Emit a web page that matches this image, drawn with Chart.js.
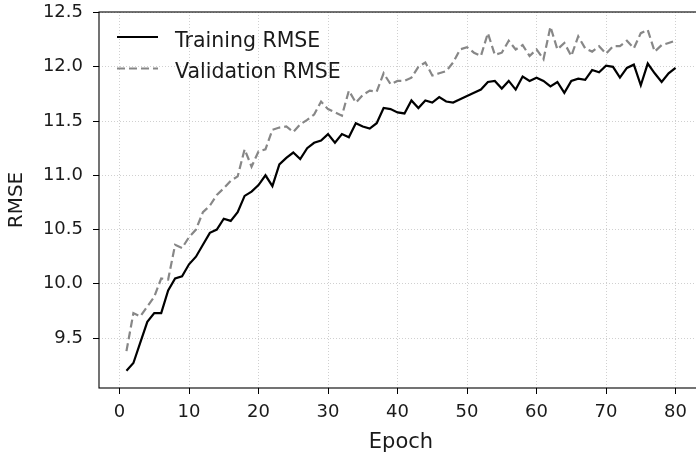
<!DOCTYPE html>
<html>
<head>
<meta charset="utf-8">
<script src="https://cdn.jsdelivr.net/npm/chart.js@4"></script>
<style>
  body { margin: 0; background: #fff; }
  #wrap { width: 696px; height: 456px; overflow: hidden; }
</style>
</head>
<body>
<div id="wrap">
  <canvas id="rmseChart" width="712" height="456"></canvas>
</div>
<script>
// Epochs 1..80
const epochs = [
  1, 2, 3, 4, 5, 6, 7, 8, 9, 10, 11, 12, 13, 14, 15, 16, 17, 18, 19, 20,
  21, 22, 23, 24, 25, 26, 27, 28, 29, 30, 31, 32, 33, 34, 35, 36, 37, 38, 39, 40,
  41, 42, 43, 44, 45, 46, 47, 48, 49, 50, 51, 52, 53, 54, 55, 56, 57, 58, 59, 60,
  61, 62, 63, 64, 65, 66, 67, 68, 69, 70, 71, 72, 73, 74, 75, 76, 77, 78, 79, 80
];

const trainingRmse = [
  9.20, 9.27, 9.46, 9.65, 9.73, 9.73, 9.94, 10.05, 10.07, 10.18,
  10.25, 10.36, 10.47, 10.50, 10.60, 10.58, 10.66, 10.81, 10.85, 10.91,
  11.00, 10.90, 11.10, 11.16, 11.21, 11.15, 11.25, 11.30, 11.32, 11.38,
  11.30, 11.38, 11.35, 11.48, 11.45, 11.43, 11.48, 11.62, 11.61, 11.58,
  11.57, 11.69, 11.62, 11.69, 11.67, 11.72, 11.68, 11.67, 11.70, 11.73,
  11.76, 11.79, 11.86, 11.87, 11.80, 11.87, 11.79, 11.91, 11.87, 11.90,
  11.87, 11.82, 11.86, 11.76, 11.87, 11.89, 11.88, 11.97, 11.95, 12.01,
  12.00, 11.90, 11.99, 12.02, 11.83, 12.03, 11.94, 11.86, 11.94, 11.99
];

const validationRmse = [
  9.38, 9.73, 9.70, 9.79, 9.88, 10.05, 10.04, 10.36, 10.33, 10.43,
  10.50, 10.66, 10.72, 10.82, 10.88, 10.95, 10.99, 11.24, 11.08, 11.22,
  11.24, 11.42, 11.44, 11.45, 11.40, 11.47, 11.51, 11.56, 11.68, 11.61,
  11.58, 11.55, 11.78, 11.67, 11.74, 11.78, 11.77, 11.94, 11.84, 11.87,
  11.87, 11.90, 12.00, 12.04, 11.92, 11.94, 11.96, 12.04, 12.16, 12.18,
  12.13, 12.10, 12.31, 12.11, 12.13, 12.24, 12.16, 12.20, 12.10, 12.16,
  12.07, 12.37, 12.16, 12.22, 12.10, 12.28, 12.17, 12.14, 12.19, 12.12,
  12.19, 12.19, 12.24, 12.17, 12.31, 12.34, 12.14, 12.20, 12.22, 12.24
];

const xTicks = [0, 10, 20, 30, 40, 50, 60, 70, 80];
const yTicks = [9.5, 10.0, 10.5, 11.0, 11.5, 12.0, 12.5];

const FONT = "'DejaVu Sans', sans-serif";

/**
 * Draws the axes frame (matplotlib-like spines)
 */
const framePlugin = {
    id: 'frame',
    afterDatasetsDraw(chart) {
        const { ctx, chartArea: a } = chart;
        ctx.save();
        ctx.strokeStyle = '#000';
        ctx.lineWidth = 1.1;
        ctx.strokeRect(a.left, a.top, a.right - a.left, a.bottom - a.top);
        ctx.restore();
    }
};

/**
 * Legend drawn inside the upper left corner of the plot
 */
const innerLegend = {
    id: 'innerLegend',
    afterDraw(chart) {
        const { ctx } = chart;
        const rows = [
            { ds: chart.data.datasets[0], y: 37, base: 46.5 },
            { ds: chart.data.datasets[1], y: 68.5, base: 78 }
        ];
        ctx.save();
        rows.forEach(row => {
            ctx.beginPath();
            ctx.strokeStyle = row.ds.borderColor;
            ctx.lineWidth = row.ds.borderWidth;
            ctx.setLineDash(row.ds.borderDash || []);
            ctx.moveTo(117, row.y);
            ctx.lineTo(158, row.y);
            ctx.stroke();
            ctx.setLineDash([]);
            ctx.fillStyle = '#1a1a1a';
            ctx.font = '20.5px ' + FONT;
            ctx.textBaseline = 'alphabetic';
            ctx.textAlign = 'left';
            ctx.fillText(row.ds.label, 175, row.base);
        });
        ctx.restore();
    }
};

function setupChart() {
    const ctx = document.getElementById('rmseChart');
    new Chart(ctx, {
        type: 'line',
        data: {
            labels: epochs,
            datasets: [{
                label: 'Training RMSE',
                data: epochs.map((e, i) => ({ x: e, y: trainingRmse[i] })),
                borderColor: '#000',
                borderWidth: 2.2,
                pointRadius: 0,
                tension: 0,
                fill: false
            }, {
                label: 'Validation RMSE',
                data: epochs.map((e, i) => ({ x: e, y: validationRmse[i] })),
                borderColor: '#878787',
                borderWidth: 2.2,
                borderDash: [8, 4],
                pointRadius: 0,
                tension: 0,
                fill: false
            }]
        },
        options: {
            responsive: false,
            animation: false,
            events: [],
            layout: { padding: { top: 12, right: 9, left: 0, bottom: 0 } },
            plugins: {
                legend: { display: false },
                tooltip: { enabled: false }
            },
            scales: {
                x: {
                    type: 'linear',
                    min: -2.95,
                    max: 83.95,
                    afterBuildTicks: scale => {
                        scale.ticks = xTicks.map(v => ({ value: v }));
                    },
                    afterFit: scale => {
                        scale.height = 68;
                        scale.paddingLeft = 0;
                        scale.paddingRight = 0;
                    },
                    ticks: {
                        color: '#1a1a1a',
                        font: { family: FONT, size: 18 },
                        padding: 8,
                        maxRotation: 0,
                        callback: v => String(v)
                    },
                    grid: {
                        color: 'rgba(176,176,176,0.75)',
                        lineWidth: 0.8,
                        tickColor: '#000',
                        tickLength: 6,
                        tickWidth: 1,
                        tickBorderDash: []
                    },
                    border: { display: false, dash: [1, 2] },
                    title: {
                        display: true,
                        text: 'Epoch',
                        color: '#1a1a1a',
                        font: { family: FONT, size: 21 },
                        padding: { top: 0, bottom: 1 }
                    }
                },
                y: {
                    min: 9.04,
                    max: 12.505,
                    afterBuildTicks: scale => {
                        scale.ticks = yTicks.map(v => ({ value: v }));
                    },
                    afterFit: scale => {
                        scale.width = 99;
                        scale.paddingTop = 0;
                        scale.paddingBottom = 0;
                    },
                    ticks: {
                        color: '#1a1a1a',
                        font: { family: FONT, size: 18 },
                        padding: 10,
                        callback: v => Number(v).toFixed(1)
                    },
                    grid: {
                        color: 'rgba(176,176,176,0.75)',
                        lineWidth: 0.8,
                        tickColor: '#000',
                        tickLength: 6,
                        tickWidth: 1,
                        tickBorderDash: []
                    },
                    border: { display: false, dash: [1, 2] },
                    title: {
                        display: true,
                        text: 'RMSE',
                        color: '#1a1a1a',
                        font: { family: FONT, size: 20 },
                        padding: { top: 5, bottom: 0 }
                    }
                }
            }
        },
        plugins: [framePlugin, innerLegend]
    });
}

document.addEventListener('DOMContentLoaded', setupChart);
</script>
</body>
</html>
